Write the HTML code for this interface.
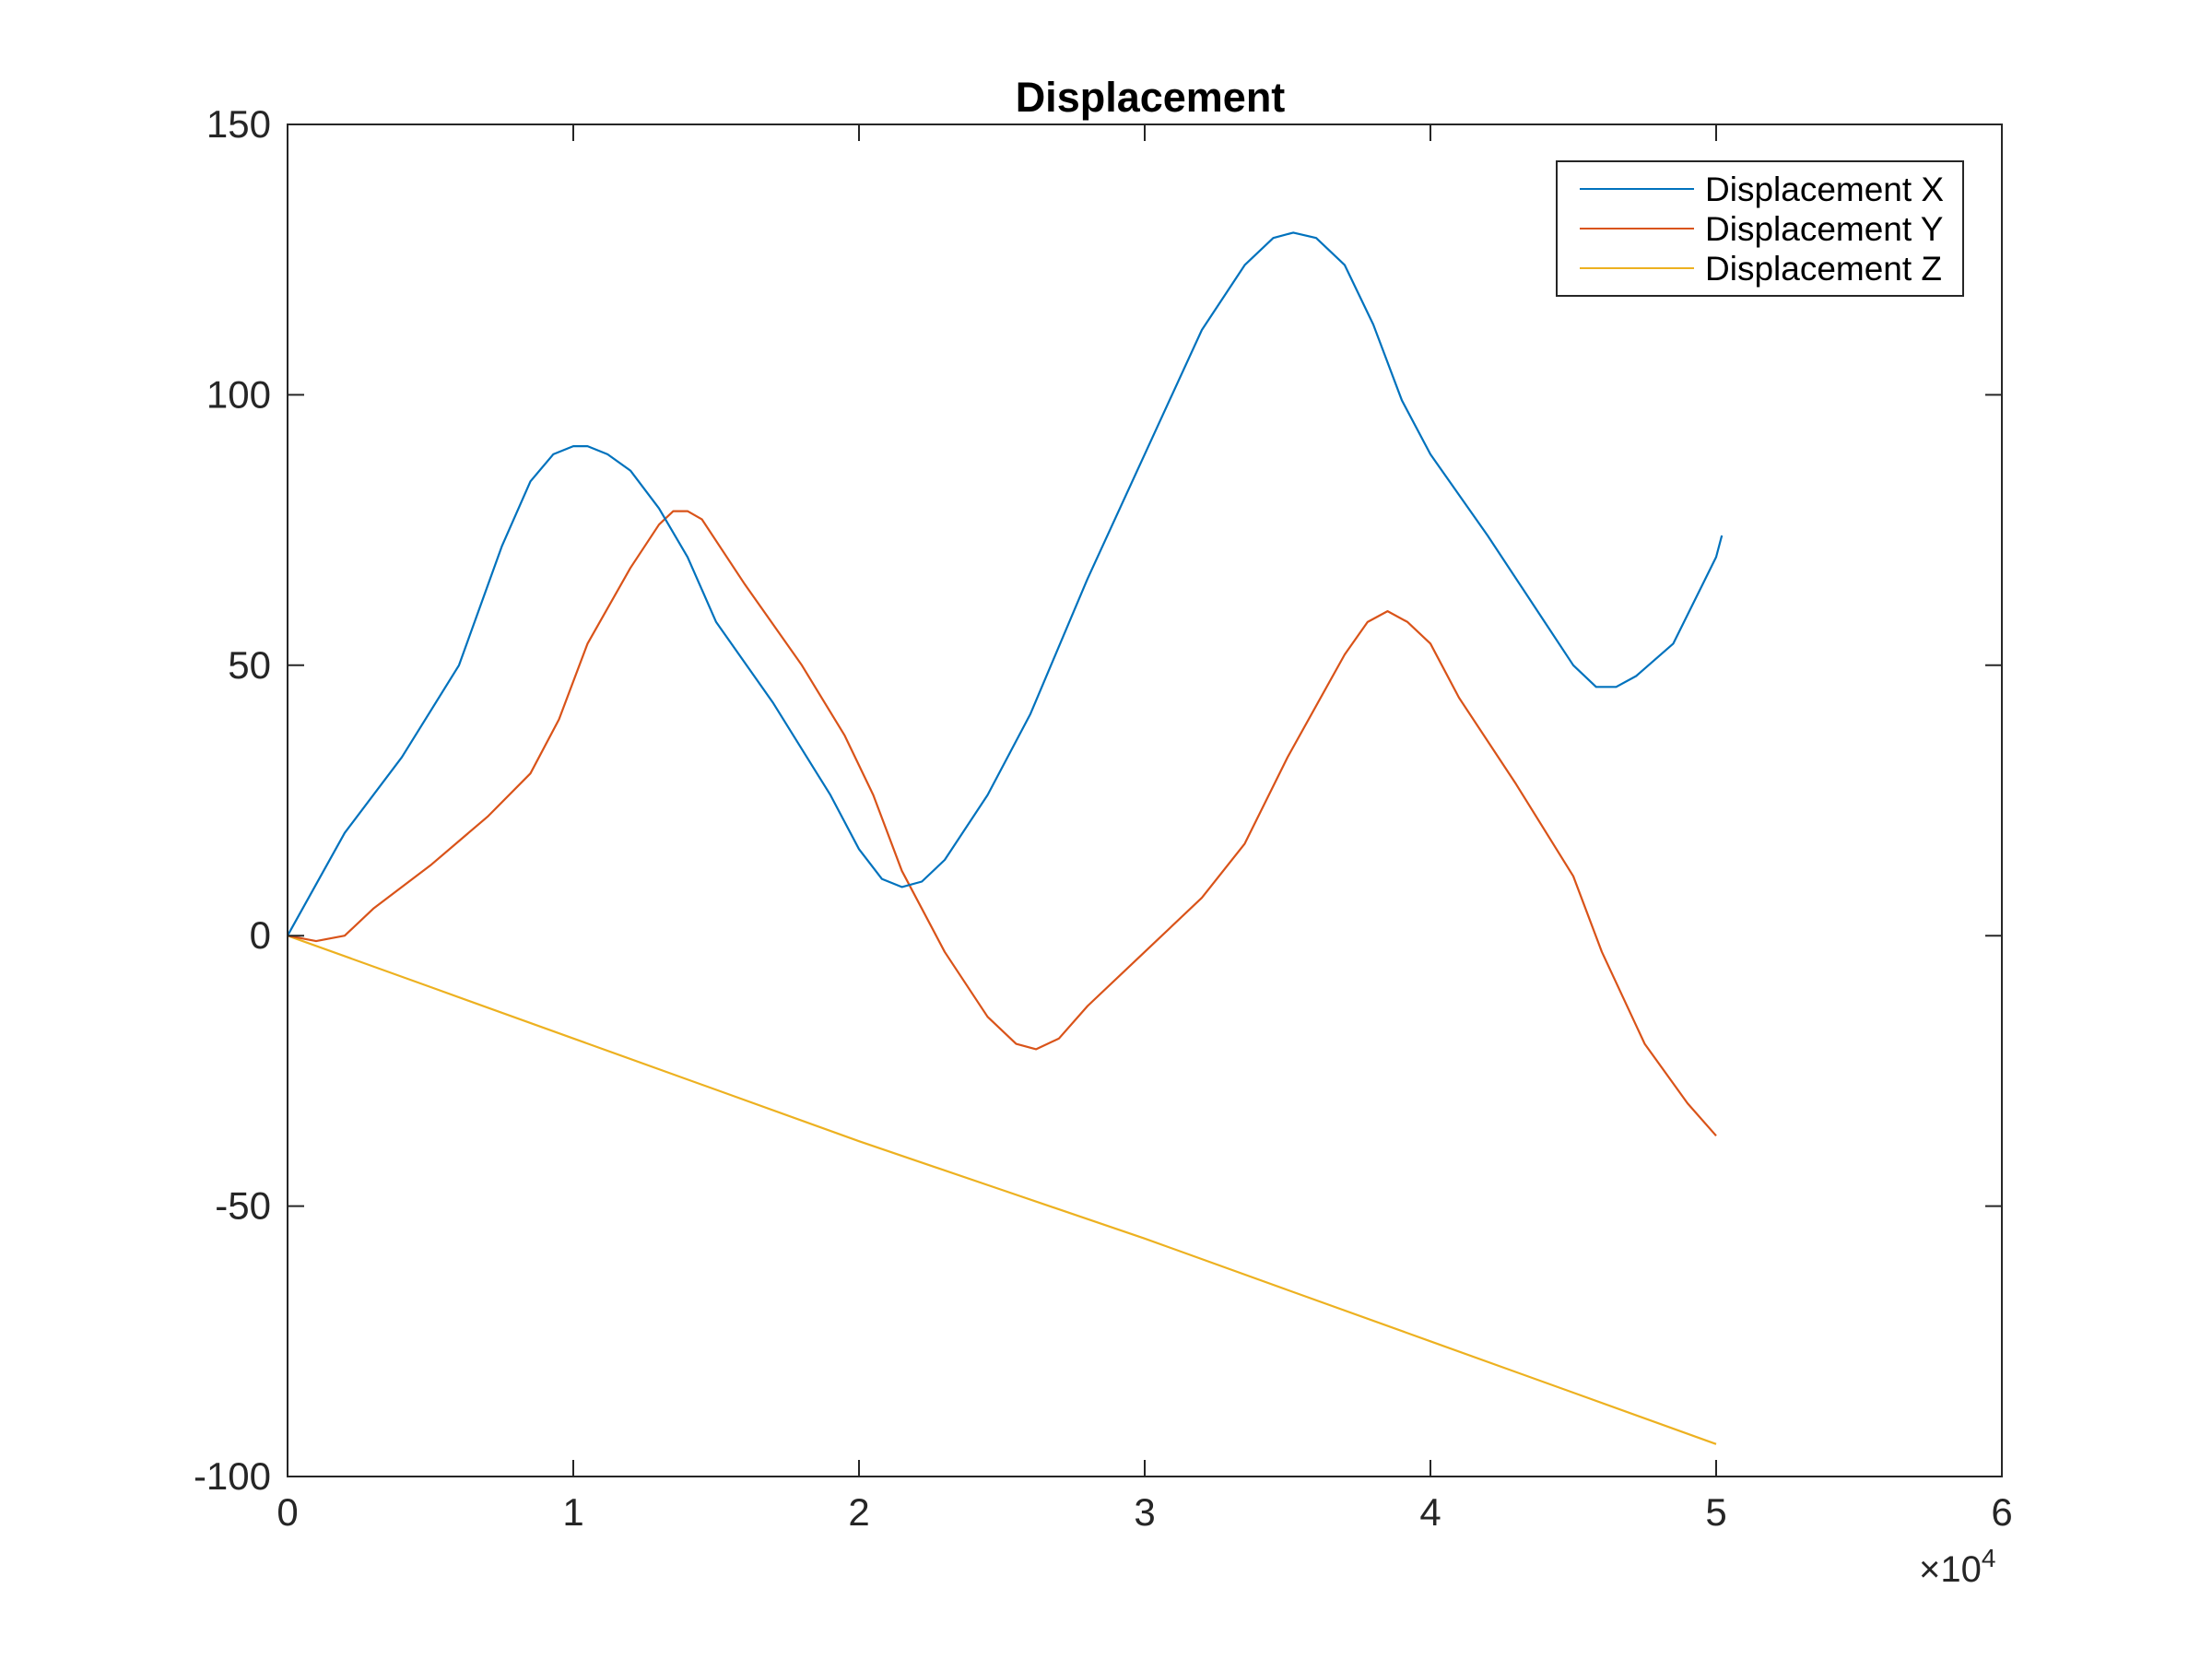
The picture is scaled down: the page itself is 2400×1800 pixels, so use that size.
<!DOCTYPE html>
<html><head><meta charset="utf-8"><style>
html,body{margin:0;padding:0;background:#fff;}
svg{display:block;font-family:"Liberation Sans",Arial,sans-serif;}
</style></head><body>
<svg id="chart" width="2400" height="1800" viewBox="0 0 2400 1800">
<rect x="0" y="0" width="2400" height="1800" fill="#fff"/>
<text x="1248" y="121" text-anchor="middle" font-size="45" font-weight="bold" fill="#000">Displacement</text>
<g id="marks"></g>
<g id="axes"></g>
<g>
<rect x="1689" y="175" width="441" height="146" fill="#fff" stroke="#262626" stroke-width="2"/>
<line x1="1714" y1="205" x2="1838" y2="205" stroke="#0072BD" stroke-width="2"/>
<text x="1850" y="218" font-size="37" fill="#000">Displacement X</text>
<line x1="1714" y1="248" x2="1838" y2="248" stroke="#D95319" stroke-width="2"/>
<text x="1850" y="261" font-size="37" fill="#000">Displacement Y</text>
<line x1="1714" y1="291" x2="1838" y2="291" stroke="#EDB120" stroke-width="2"/>
<text x="1850" y="304" font-size="37" fill="#000">Displacement Z</text>
</g>
<text x="2082" y="1716" font-size="40" fill="#262626">×10<tspan font-size="28" dy="-16">4</tspan></text>
</svg>
<script>
const xTicks=[0,1,2,3,4,5,6];
const yTicks=[-100,-50,0,50,100,150];
const xsX=[0,0.2,0.4,0.6,0.75,0.85,0.93,1.0,1.05,1.12,1.2,1.3,1.4,1.5,1.7,1.9,2.0,2.08,2.15,2.22,2.3,2.45,2.6,2.8,3.0,3.2,3.35,3.45,3.52,3.6,3.7,3.8,3.9,4.0,4.2,4.4,4.5,4.58,4.65,4.72,4.85,5.0,5.02];
const dispX=[0,19,33,50,72,84,89,90.5,90.5,89,86,79,70,58,43,26,16,10.5,9,10,14,26,41,66,89,112,124,129,130,129,124,113,99,89,74,58,50,46,46,48,54,70,74];
const xsY=[0,0.1,0.2,0.3,0.5,0.7,0.85,0.95,1.05,1.2,1.3,1.35,1.4,1.45,1.6,1.8,1.95,2.05,2.15,2.3,2.45,2.55,2.62,2.7,2.8,3.0,3.2,3.35,3.5,3.7,3.78,3.85,3.92,4.0,4.1,4.3,4.5,4.6,4.75,4.9,5.0];
const dispY=[0,-1,0,5,13,22,30,40,54,68,76,78.5,78.5,77,65,50,37,26,12,-3,-15,-20,-21,-19,-13,-3,7,17,33,52,58,60,58,54,44,28,11,-3,-20,-31,-37];
const xsZ=[0,0.5,1.0,1.5,2.0,2.5,3.0,3.5,4.0,4.5,5.0];
const dispZ=[0,-9.5,-19,-28.5,-38,-47,-56,-65.5,-75,-84.5,-94];
const L=312,R=2172,T=135,B=1602;
const sx=v=>L+(v-0)/(6-0)*(R-L);
const sy=v=>B-(v+100)/250*(B-T);
const NS="http://www.w3.org/2000/svg";
const marks=document.getElementById('marks'),axes=document.getElementById('axes');
function mk(tag,attrs,parent){const e=document.createElementNS(NS,tag);for(const k in attrs)e.setAttribute(k,attrs[k]);parent.appendChild(e);return e;}
function series(xs,ys,color,name){
  const p=mk('polyline',{points:xs.map((x,i)=>sx(x).toFixed(1)+','+sy(ys[i]).toFixed(1)).join(' '),fill:'none',stroke:color,'stroke-width':2.2,'stroke-linejoin':'round'},marks);
  
  
}
series(xsZ,dispZ,'#EDB120','line-displacement-z');
series(xsY,dispY,'#D95319','line-displacement-y');
series(xsX,dispX,'#0072BD','line-displacement-x');
const box=mk('rect',{x:L,y:T,width:R-L,height:B-T,fill:'none',stroke:'#262626','stroke-width':2},axes);


xTicks.forEach(t=>{
  const x=sx(t);
  mk('line',{x1:x,y1:B,x2:x,y2:B-18,stroke:'#262626','stroke-width':2},axes);
  mk('line',{x1:x,y1:T,x2:x,y2:T+18,stroke:'#262626','stroke-width':2},axes);
  const tx=mk('text',{x:x,y:B+53,'text-anchor':'middle','font-size':42,fill:'#262626'},axes);
  tx.textContent=t;
  
  
});
yTicks.forEach(t=>{
  const y=sy(t);
  mk('line',{x1:L,y1:y,x2:L+18,y2:y,stroke:'#262626','stroke-width':2},axes);
  mk('line',{x1:R,y1:y,x2:R-18,y2:y,stroke:'#262626','stroke-width':2},axes);
  const tx=mk('text',{x:L-18,y:y+14,'text-anchor':'end','font-size':42,fill:'#262626'},axes);
  tx.textContent=t;
  
  
});
</script>
</body></html>
